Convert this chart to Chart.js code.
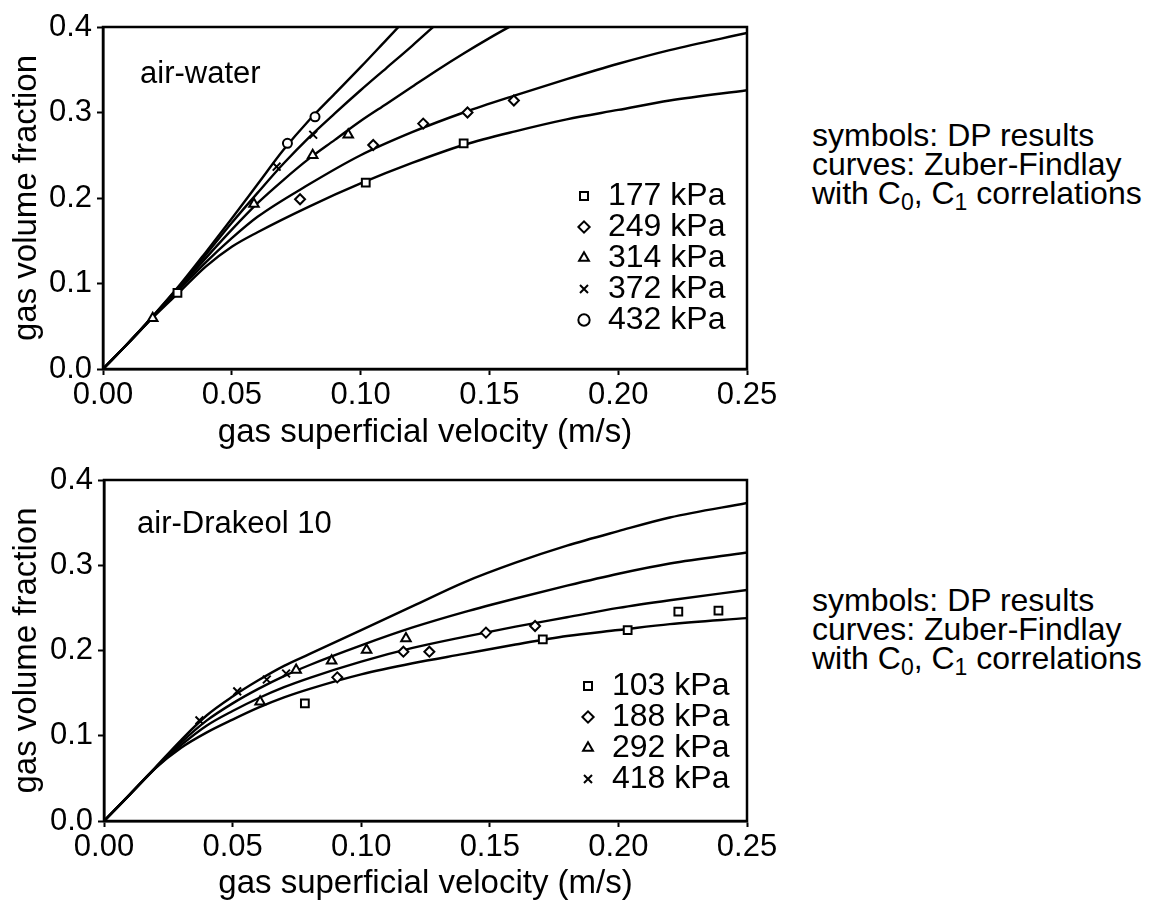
<!DOCTYPE html>
<html>
<head>
<meta charset="utf-8">
<script src="https://cdn.jsdelivr.net/npm/chart.js@4.4.0/dist/chart.umd.min.js"></script>
<style>
  body { margin: 0; background: #fff; width: 1150px; height: 902px; position: relative; overflow: hidden;
         font-family: "Liberation Sans", Arial, sans-serif; color: #000; }
  canvas { position: absolute; left: 0; }
  #top-chart { top: 0; }
  #bottom-chart { top: 455px; }
  .label { position: absolute; font-size: 31px; line-height: 1; white-space: nowrap; }
  .note { position: absolute; left: 812px; font-size: 32px; line-height: 29px; white-space: nowrap; }
  .note sub { font-size: 23px; vertical-align: -6px; line-height: 0; }
</style>
</head>
<body>
<canvas id="top-chart" width="800" height="455"></canvas>
<canvas id="bottom-chart" width="800" height="447"></canvas>
<div class="label" style="left:140px; top:57px">air-water</div>
<div class="label" style="left:137px; top:507px">air-Drakeol 10</div>
<div class="note" style="top:121px">symbols: DP results<br>curves: Zuber-Findlay<br>with C<sub>0</sub>, C<sub>1</sub> correlations</div>
<div class="note" style="top:586px">symbols: DP results<br>curves: Zuber-Findlay<br>with C<sub>0</sub>, C<sub>1</sub> correlations</div>
<script>
Chart.defaults.font.family = '"Liberation Sans", Arial, sans-serif';
Chart.defaults.color = '#000';

// ---- air-water: DP results (symbols) ----
const water177V = [0.0289, 0.102, 0.140];
const water177F = [0.089, 0.218, 0.264];
const water249V = [0.0765, 0.1049, 0.1243, 0.1415, 0.1595];
const water249F = [0.1985, 0.262, 0.287, 0.300, 0.314];
const water314V = [0.0193, 0.0586, 0.0814, 0.0952];
const water314F = [0.0593, 0.193, 0.250, 0.274];
const water372V = [0.0674, 0.0816];
const water372F = [0.2366, 0.274];
const water432V = [0.0716, 0.0823];
const water432F = [0.264, 0.295];

// ---- air-water: Zuber-Findlay curves ----
const waterGridLong = [0, 0.01, 0.02, 0.03, 0.04, 0.05, 0.06, 0.08, 0.10, 0.12, 0.14, 0.16, 0.18, 0.20, 0.22, 0.25];
const waterCurve177 = [0, 0.031, 0.062, 0.091, 0.120, 0.143, 0.160, 0.190, 0.217, 0.241, 0.262, 0.278, 0.292, 0.303, 0.314, 0.326];
const waterCurve249 = [0, 0.031, 0.063, 0.094, 0.125, 0.153, 0.178, 0.216, 0.250, 0.277, 0.300, 0.320, 0.339, 0.357, 0.373, 0.393];
const waterGrid314 = [0, 0.01, 0.02, 0.03, 0.04, 0.05, 0.06, 0.07, 0.08, 0.09, 0.10, 0.11, 0.12, 0.13, 0.14, 0.15, 0.16];
const waterCurve314 = [0, 0.031, 0.063, 0.096, 0.130, 0.163, 0.194, 0.221, 0.246, 0.268, 0.290, 0.310, 0.330, 0.350, 0.369, 0.387, 0.404];
const waterGrid372 = [0, 0.01, 0.02, 0.03, 0.04, 0.05, 0.06, 0.07, 0.08, 0.09, 0.10, 0.11, 0.12, 0.13];
const waterCurve372 = [0, 0.031, 0.064, 0.098, 0.134, 0.171, 0.206, 0.240, 0.271, 0.299, 0.326, 0.352, 0.378, 0.405];
const waterGrid432 = [0, 0.01, 0.02, 0.03, 0.04, 0.05, 0.06, 0.07, 0.08, 0.09, 0.10, 0.11, 0.12];
const waterCurve432 = [0, 0.031, 0.064, 0.099, 0.137, 0.176, 0.216, 0.256, 0.291, 0.322, 0.353, 0.385, 0.417];

// ---- air-Drakeol 10: DP results ----
const oil103V = [0.0781, 0.1706, 0.2036, 0.2233, 0.2389];
const oil103F = [0.138, 0.213, 0.224, 0.2455, 0.2467];
const oil188V = [0.0907, 0.1164, 0.1265, 0.1485, 0.1676];
const oil188F = [0.1685, 0.1986, 0.1986, 0.221, 0.2287];
const oil292V = [0.0607, 0.0747, 0.0885, 0.1021, 0.1174];
const oil292F = [0.140, 0.177, 0.188, 0.2006, 0.214];
const oil418V = [0.0371, 0.0518, 0.0633, 0.0708];
const oil418F = [0.118, 0.152, 0.166, 0.173];

// ---- air-Drakeol 10: curves ----
const oilGrid = [0, 0.01, 0.02, 0.03, 0.04, 0.05, 0.06, 0.07, 0.08, 0.10, 0.12, 0.14, 0.16, 0.18, 0.20, 0.22, 0.25];
const oilCurve103 = [0, 0.031, 0.062, 0.086, 0.104, 0.119, 0.133, 0.145, 0.155, 0.172, 0.185, 0.196, 0.207, 0.217, 0.224, 0.231, 0.238];
const oilCurve188 = [0, 0.031, 0.062, 0.089, 0.112, 0.129, 0.144, 0.157, 0.168, 0.187, 0.203, 0.216, 0.228, 0.239, 0.250, 0.259, 0.271];
const oilCurve292 = [0, 0.031, 0.062, 0.092, 0.118, 0.138, 0.155, 0.170, 0.183, 0.206, 0.227, 0.245, 0.261, 0.276, 0.290, 0.302, 0.315];
const oilCurve418 = [0, 0.031, 0.063, 0.095, 0.124, 0.146, 0.165, 0.182, 0.196, 0.224, 0.252, 0.280, 0.303, 0.323, 0.340, 0.356, 0.373];

function pts(v, f) {
    return v.map((x, i) => ({ x: x, y: f[i] }));
}

function curve(v, f) {
    return {
        label: '',
        data: pts(v, f),
        showLine: true,
        borderColor: '#000',
        borderWidth: 2.4,
        pointRadius: 0,
        cubicInterpolationMode: 'monotone',
        fill: false
    };
}

function marks(label, v, f, style, r) {
    return {
        label: label,
        data: pts(v, f),
        showLine: false,
        pointStyle: style,
        pointRadius: r,
        pointBorderColor: '#000',
        pointBackgroundColor: '#fff',
        pointBorderWidth: 2
    };
}

// box round the plot area
const framePlugin = {
    id: 'frame',
    afterDraw(chart) {
        const { ctx, chartArea: a } = chart;
        ctx.save();
        ctx.strokeStyle = '#000';
        ctx.lineWidth = 2.5;
        ctx.strokeRect(a.left, a.top, a.right - a.left, a.bottom - a.top);
        ctx.restore();
    }
};

// puts the legend inside the plot, lower right
const legendSpot = {
    id: 'legendSpot',
    afterLayout(chart, args, opts) {
        const lg = chart.legend, a = chart.chartArea;
        lg.left = a.right - opts.dx;
        lg.right = a.right;
        lg.top = a.top + opts.dy;
        lg.bottom = a.bottom;
        lg.width = lg.right - lg.left;
        lg.height = lg.bottom - lg.top;
    }
};

function makeOptions(yWidth, xHeight, titlePad, pad, dx, dy) {
    return {
        responsive: false,
        maintainAspectRatio: false,
        animation: false,
        layout: { padding: pad },
        plugins: {
            tooltip: { enabled: false },
            legend: {
                position: 'chartArea',
                align: 'start',
                labels: {
                    usePointStyle: true,
                    boxWidth: 16,
                    boxHeight: 8,
                    padding: -1,
                    color: '#000',
                    font: { size: 32 },
                    filter: item => item.text !== ''
                }
            },
            legendSpot: { dx: dx, dy: dy }
        },
        scales: {
            x: {
                type: 'linear',
                min: 0,
                max: 0.25,
                ticks: { stepSize: 0.05, padding: 2, font: { size: 31, lineHeight: 1.2 }, color: '#000',
                         callback: v => v.toFixed(2) },
                grid: { drawOnChartArea: false, tickLength: 6, tickWidth: 2, tickColor: '#000' },
                border: { color: '#000', width: 2.5 },
                title: { display: true, text: 'gas superficial velocity (m/s)', color: '#000',
                         font: { size: 33, lineHeight: 1 }, padding: { top: 0, bottom: titlePad } },
                afterFit: s => { s.height = xHeight; }
            },
            y: {
                type: 'linear',
                min: 0,
                max: 0.4,
                ticks: { stepSize: 0.1, padding: 5, font: { size: 31 }, color: '#000',
                         callback: v => v.toFixed(1) },
                grid: { drawOnChartArea: false, tickLength: 6, tickWidth: 2, tickColor: '#000' },
                border: { color: '#000', width: 2.5 },
                title: { display: true, text: 'gas volume fraction', color: '#000',
                         font: { size: 33, lineHeight: 1 }, padding: { top: 10, bottom: 0 } },
                afterFit: s => { s.width = yWidth; }
            }
        }
    };
}

const topChart = new Chart(document.getElementById('top-chart').getContext('2d'), {
    type: 'scatter',
    data: {
        datasets: [
            marks('177 kPa', water177V, water177F, 'rect', 5.5),
            marks('249 kPa', water249V, water249F, 'rectRot', 5),
            marks('314 kPa', water314V, water314F, 'triangle', 5.5),
            marks('372 kPa', water372V, water372F, 'crossRot', 5.5),
            marks('432 kPa', water432V, water432F, 'circle', 4.5),
            curve(waterGridLong, waterCurve177),
            curve(waterGridLong, waterCurve249),
            curve(waterGrid314, waterCurve314),
            curve(waterGrid372, waterCurve372),
            curve(waterGrid432, waterCurve432)
        ]
    },
    options: makeOptions(103, 86, 6, { top: 27, right: 53, left: 0, bottom: 0 }, 170, 154),
    plugins: [framePlugin, legendSpot]
});

const bottomChart = new Chart(document.getElementById('bottom-chart').getContext('2d'), {
    type: 'scatter',
    data: {
        datasets: [
            marks('103 kPa', oil103V, oil103F, 'rect', 5.5),
            marks('188 kPa', oil188V, oil188F, 'rectRot', 5),
            marks('292 kPa', oil292V, oil292F, 'triangle', 5.5),
            marks('418 kPa', oil418V, oil418F, 'crossRot', 5.5),
            curve(oilGrid, oilCurve103),
            curve(oilGrid, oilCurve188),
            curve(oilGrid, oilCurve292),
            curve(oilGrid, oilCurve418)
        ]
    },
    options: makeOptions(104, 81, 2, { top: 25, right: 53, left: 0, bottom: 0 }, 166, 191),
    plugins: [framePlugin, legendSpot]
});
</script>
</body>
</html>
